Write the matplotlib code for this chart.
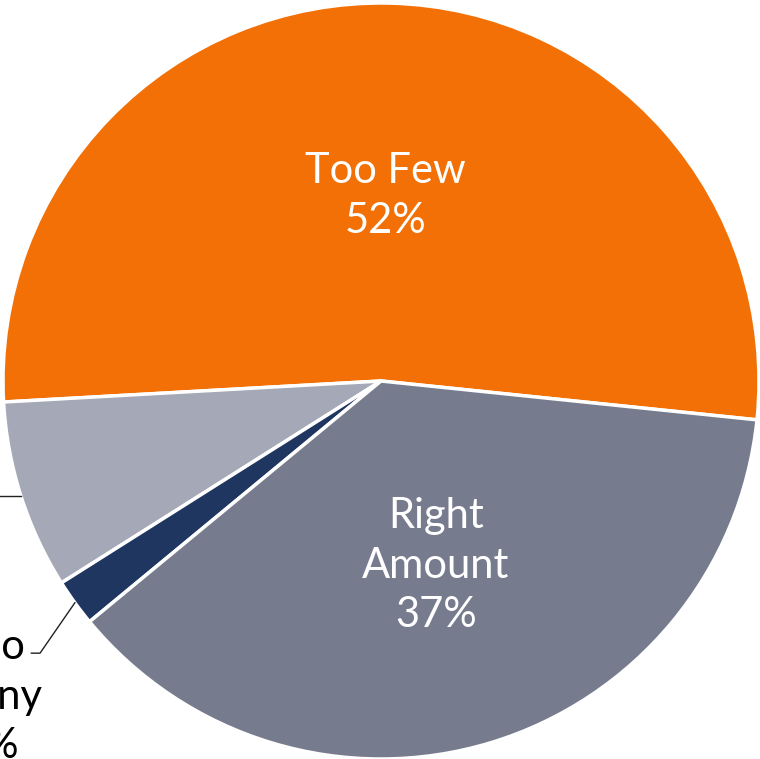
import matplotlib
matplotlib.use("Agg")
import matplotlib.pyplot as plt
import numpy as np

labels = ["Too Few", "Don't Know", "Too Many", "Right Amount"]
values = [52, 8, 2, 37]
colors = ["#F27005", "#A5A8B6", "#1F3660", "#777B8E"]
pct_text = ["52%", "8%", "2%", "37%"]
inside_names = ["Too Few", None, None, "Right\nAmount"]

plt.rcParams['font.family'] = ['Lato', 'DejaVu Sans']

fig = plt.figure(figsize=(7.6, 7.59), dpi=100)
ax = fig.add_axes([0, 0, 1, 1])

wedges, _ = ax.pie(values, colors=colors, startangle=-5.9, counterclock=True,
                   radius=1.0, center=(0, 0),
                   wedgeprops=dict(edgecolor="white", linewidth=2.5))

# inside labels for the two large slices
for i in (0, 3):
    w = wedges[i]
    mid = np.deg2rad((w.theta1 + w.theta2) / 2)
    ax.text(0.5 * np.cos(mid), 0.5 * np.sin(mid) - 0.01,
            inside_names[i] + "\n" + pct_text[i],
            ha="center", va="center", color="white", fontsize=30, linespacing=1.37)

# outside labels with leader lines for the small slices
w = wedges[1]
mid = np.deg2rad((w.theta1 + w.theta2) / 2)
x0, y0 = np.cos(mid), np.sin(mid)
ax.plot([x0, -1.06], [y0, y0], color="#222222", lw=1)
ax.text(-1.09, y0, labels[1] + "\n" + pct_text[1], ha="right", va="center",
        color="black", fontsize=30, linespacing=1.37)

w = wedges[2]
mid = np.deg2rad((w.theta1 + w.theta2) / 2)
x0, y0 = np.cos(mid), np.sin(mid)
ax.plot([x0, -0.902, -0.925], [y0, -0.72, -0.72], color="#222222", lw=1)
ax.text(-1.035, -0.835, "Too\nMany\n" + pct_text[2], ha="center", va="center",
        color="black", fontsize=30, linespacing=1.37)

ax.set_xlim(-381 / 378, (760 - 381) / 378)
ax.set_ylim(-(759 - 381) / 378, 381 / 378)
ax.set_aspect("auto")
ax.axis("off")

fig.savefig("out.png", dpi=100)
